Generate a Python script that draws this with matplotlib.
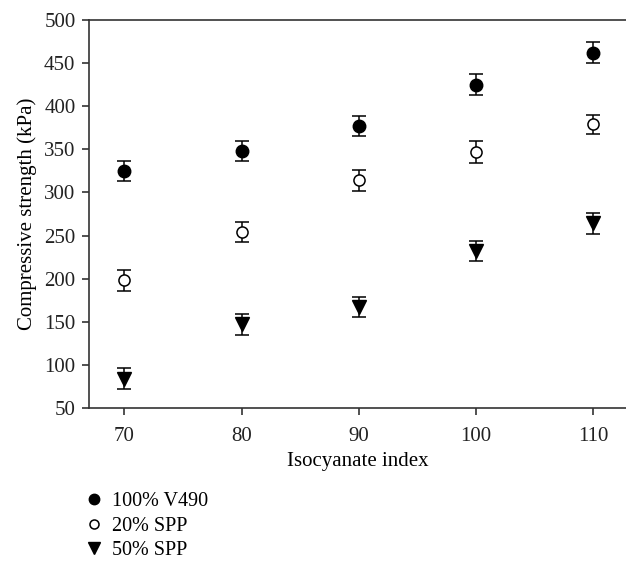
import matplotlib
matplotlib.use("Agg")
import matplotlib.pyplot as plt
from matplotlib.lines import Line2D

plt.rcParams['font.family'] = ['Liberation Serif', 'DejaVu Serif']

# data
iso_index = [70, 80, 90, 100, 110]
v490 = [325, 348, 377, 425, 462]
v490_err = [12, 12, 12, 12, 12]
spp20 = [198, 254, 314, 347, 379]
spp20_err = [12, 12, 12, 13, 11]
spp50 = [84, 147, 167, 232, 264]
spp50_err = [12, 12, 12, 12, 12]
labels = ["100% V490", "20% SPP", "50% SPP"]

fig = plt.figure(figsize=(6.26, 5.62), dpi=100)
ax = fig.add_axes([0.1427, 0.274, 0.8573, 0.6904])

kw = dict(linestyle='none', ecolor='black', elinewidth=1.1, capsize=5, capthick=1.1)
ax.errorbar(iso_index, v490, yerr=v490_err, marker='o', ms=9, mfc='black', mec='black', **kw)
ax.errorbar(iso_index, spp20, yerr=spp20_err, marker='o', ms=8, mfc='white', mec='black', mew=1.1, **kw)
ax.errorbar(iso_index, spp50, yerr=spp50_err, marker='v', ms=9.5, mfc='black', mec='black', **kw)

ax.set_xlim(67, 112.8)
ax.set_ylim(50, 500)
ax.set_xticks(iso_index)
ax.set_yticks(range(50, 501, 50))
ax.tick_params(labelsize=15, length=5, width=1.1, colors='#222222')
ax.tick_params(axis='x', pad=9)
ax.tick_params(axis='y', pad=5)
ax.set_xlabel("Isocyanate index", fontsize=15, labelpad=4)
ax.set_ylabel("Compressive strength (kPa)", fontsize=15, labelpad=5)

ax.spines['right'].set_visible(False)
for s in ['left', 'bottom', 'top']:
    ax.spines[s].set_linewidth(1.2)
    ax.spines[s].set_color('#333333')

handles = [
    Line2D([], [], linestyle='none', marker='o', ms=7.5, mfc='black', mec='black'),
    Line2D([], [], linestyle='none', marker='o', ms=6.5, mfc='white', mec='black', mew=1.1),
    Line2D([], [], linestyle='none', marker='v', ms=8, mfc='black', mec='black'),
]
fig.legend(handles, labels, loc='upper left', bbox_to_anchor=(0.137, 0.125), frameon=False,
           fontsize=14.5, handlelength=0.8, handletextpad=0.5, labelspacing=0.28,
           borderpad=0, borderaxespad=0)

fig.savefig("out.png", dpi=100)
